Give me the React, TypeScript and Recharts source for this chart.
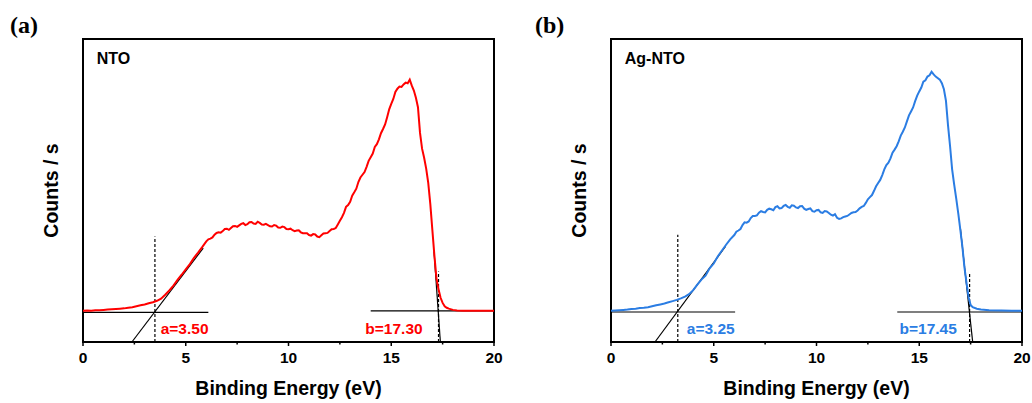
import {
  LineChart,
  Line,
  XAxis,
  YAxis,
  ReferenceLine,
  ReferenceArea,
  ReferenceDot,
} from "recharts";

// y is in arbitrary counts units (axis has no tick labels), 0..100
const energyTicks = [0, 2.5, 5, 7.5, 10, 12.5, 15, 17.5, 20];

const ntoSpectrum: [number, number][] = [
  [0, 10.3], [0.2, 10.4], [0.4, 10.3], [0.6, 10.5], [0.8, 10.5], [1.0, 10.6],
  [1.2, 10.7], [1.4, 10.8], [1.6, 10.9], [1.8, 11.0], [2.0, 11.1], [2.2, 11.3],
  [2.4, 11.5], [2.6, 11.8], [2.8, 12.1], [3.0, 12.4], [3.2, 12.8], [3.4, 13.1],
  [3.6, 13.6], [3.8, 14.3], [4.0, 15.6], [4.2, 17.0], [4.4, 18.6], [4.6, 20.5],
  [4.8, 22.2], [5.0, 24.0], [5.2, 25.7], [5.4, 27.8], [5.6, 29.5], [5.8, 31.3],
  [6.0, 33.2], [6.1, 33.9], [6.2, 34.1], [6.3, 34.5], [6.4, 35.4], [6.5, 36.0],
  [6.6, 36.2], [6.7, 36.1], [6.8, 36.6], [6.9, 37.3], [7.0, 37.4], [7.1, 37.0],
  [7.2, 37.6], [7.3, 38.2], [7.4, 38.3], [7.5, 38.0], [7.6, 38.5], [7.7, 39.0],
  [7.8, 39.2], [7.9, 38.6], [8.0, 38.9], [8.1, 39.5], [8.2, 39.6], [8.3, 39.1],
  [8.4, 39.0], [8.5, 39.7], [8.6, 39.3], [8.7, 38.8], [8.8, 38.7], [8.9, 39.0],
  [9.0, 38.6], [9.1, 38.2], [9.2, 38.1], [9.3, 38.6], [9.4, 38.4], [9.5, 37.8],
  [9.6, 37.7], [9.7, 38.1], [9.8, 37.9], [9.9, 37.3], [10.0, 37.2], [10.1, 37.4],
  [10.2, 36.9], [10.3, 36.6], [10.4, 36.8], [10.5, 36.9], [10.6, 36.2], [10.7, 35.9],
  [10.8, 35.9], [10.9, 35.9], [11.0, 35.3], [11.1, 35.1], [11.2, 35.6], [11.3, 35.5],
  [11.4, 34.8], [11.5, 34.6], [11.6, 35.2], [11.7, 35.8], [11.8, 35.9], [11.9, 36.0],
  [12.0, 36.6], [12.1, 37.2], [12.2, 37.3], [12.3, 37.6], [12.4, 38.8], [12.5, 40.0],
  [12.6, 41.2], [12.7, 42.6], [12.8, 44.6], [12.9, 45.2], [13.0, 46.3], [13.1, 48.3],
  [13.2, 49.4], [13.3, 50.6], [13.4, 52.8], [13.5, 54.3], [13.6, 55.2], [13.7, 56.1],
  [13.8, 57.8], [13.9, 59.8], [14.0, 61.0], [14.1, 62.2], [14.2, 64.4], [14.3, 65.3],
  [14.4, 66.9], [14.5, 68.9], [14.6, 70.3], [14.7, 71.8], [14.8, 74.2], [14.9, 76.8],
  [15.0, 78.6], [15.1, 80.2], [15.2, 82.5], [15.3, 83.6], [15.4, 84.3], [15.5, 84.2],
  [15.6, 85.0], [15.7, 85.6], [15.8, 85.4], [15.9, 86.6], [16.0, 84.6], [16.1, 83.0],
  [16.2, 80.6], [16.3, 77.5], [16.4, 69.0], [16.5, 63.8], [16.6, 60.8], [16.7, 57.2],
  [16.8, 52.5], [16.9, 45.6], [17.0, 37.0], [17.1, 28.5], [17.2, 21.0], [17.3, 17.4],
  [17.4, 14.6], [17.5, 12.9], [17.6, 11.8], [17.7, 11.3], [17.8, 11.0], [18.0, 10.6],
  [18.2, 10.4], [18.5, 10.3], [19.0, 10.3], [19.5, 10.3], [20.0, 10.3],
];

const agNtoSpectrum: [number, number][] = [
  [0, 10.3], [0.2, 10.4], [0.4, 10.5], [0.6, 10.6], [0.8, 10.7], [1.0, 10.9],
  [1.2, 11.0], [1.4, 11.2], [1.6, 11.3], [1.8, 11.5], [2.0, 11.8], [2.2, 12.1],
  [2.4, 12.4], [2.6, 12.7], [2.8, 13.1], [3.0, 13.5], [3.2, 13.9], [3.4, 14.4],
  [3.6, 15.0], [3.8, 15.8], [4.0, 17.1], [4.2, 18.9], [4.4, 20.6], [4.6, 21.9],
  [4.8, 24.3], [5.0, 25.9], [5.2, 28.3], [5.4, 30.2], [5.6, 32.1], [5.8, 33.9],
  [6.0, 35.3], [6.1, 36.4], [6.2, 36.8], [6.3, 37.3], [6.4, 38.6], [6.5, 39.5],
  [6.6, 39.4], [6.7, 39.8], [6.8, 40.9], [6.9, 41.6], [7.0, 41.6], [7.1, 41.8],
  [7.2, 42.7], [7.3, 43.2], [7.4, 42.9], [7.5, 42.8], [7.6, 43.6], [7.7, 44.0],
  [7.8, 43.8], [7.9, 43.5], [8.0, 44.5], [8.1, 44.8], [8.2, 44.1], [8.3, 44.2],
  [8.4, 44.9], [8.5, 45.2], [8.6, 44.6], [8.7, 44.3], [8.8, 45.1], [8.9, 45.0],
  [9.0, 44.4], [9.1, 44.2], [9.2, 44.8], [9.3, 44.9], [9.4, 44.0], [9.5, 43.6],
  [9.6, 43.9], [9.7, 44.1], [9.8, 43.2], [9.9, 43.0], [10.0, 43.5], [10.1, 43.6],
  [10.2, 42.8], [10.3, 42.6], [10.4, 43.2], [10.5, 43.1], [10.6, 42.6], [10.7, 42.0],
  [10.8, 41.7], [10.9, 42.2], [11.0, 41.0], [11.1, 40.6], [11.2, 40.8], [11.3, 41.2],
  [11.4, 41.4], [11.5, 41.6], [11.6, 42.1], [11.7, 42.6], [11.8, 42.8], [11.9, 42.9],
  [12.0, 43.4], [12.1, 44.1], [12.2, 44.6], [12.3, 44.9], [12.4, 45.9], [12.5, 47.1],
  [12.6, 47.8], [12.7, 48.5], [12.8, 49.9], [12.9, 51.4], [13.0, 52.5], [13.1, 53.5],
  [13.2, 55.1], [13.3, 57.0], [13.4, 58.4], [13.5, 59.2], [13.6, 60.6], [13.7, 62.5],
  [13.8, 63.5], [13.9, 64.6], [14.0, 66.2], [14.1, 68.1], [14.2, 69.4], [14.3, 70.8],
  [14.4, 72.8], [14.5, 74.8], [14.6, 76.1], [14.7, 77.4], [14.8, 79.5], [14.9, 81.3],
  [15.0, 82.7], [15.1, 84.0], [15.2, 85.9], [15.3, 86.4], [15.4, 87.6], [15.5, 88.0],
  [15.6, 89.2], [15.7, 88.3], [15.8, 87.6], [16.0, 86.6], [16.1, 85.4], [16.2, 83.4],
  [16.3, 79.6], [16.4, 71.5], [16.5, 64.6], [16.6, 57.0], [16.7, 51.9], [16.8, 47.3],
  [16.9, 42.4], [17.0, 37.0], [17.1, 31.4], [17.2, 24.6], [17.3, 19.5], [17.4, 14.8],
  [17.5, 12.2], [17.6, 11.5], [17.8, 11.0], [18.0, 10.7], [18.4, 10.5], [19.0, 10.4],
  [19.5, 10.3], [20.0, 10.3],
];

type Pt = { x: number; y: number };
type Seg = [Pt, Pt];

// fitted lines (baselines, tangents, dashed onset markers)
const ntoFits: Seg[] = [
  [{ x: 0, y: 9.8 }, { x: 6.1, y: 9.8 }],
  [{ x: 14, y: 10.3 }, { x: 20, y: 10.3 }],
  [{ x: 2.38, y: 0 }, { x: 5.85, y: 31 }],
  [{ x: 17.08, y: 29.9 }, { x: 17.39, y: 0 }],
];
const ntoMarkers: Seg[] = [
  [{ x: 3.5, y: 0 }, { x: 3.5, y: 34.8 }],
  [{ x: 17.3, y: 0 }, { x: 17.3, y: 23.3 }],
];
const agNtoFits: Seg[] = [
  [{ x: 0, y: 9.9 }, { x: 6.04, y: 9.9 }],
  [{ x: 13.93, y: 9.9 }, { x: 20, y: 9.9 }],
  [{ x: 2.14, y: 0 }, { x: 5.58, y: 31.6 }],
  [{ x: 17.0, y: 37.6 }, { x: 17.6, y: 0 }],
];
const agNtoMarkers: Seg[] = [
  [{ x: 3.25, y: 0 }, { x: 3.25, y: 35.4 }],
  [{ x: 17.45, y: 0 }, { x: 17.45, y: 22.8 }],
];

type Note = { x: number; y: number; text: string };
const ntoNotes: Note[] = [
  { x: 3.78, y: 4.3, text: "a=3.50" },
  { x: 13.74, y: 4.3, text: "b=17.30" },
];
const agNtoNotes: Note[] = [
  { x: 3.69, y: 4.6, text: "a=3.25" },
  { x: 14.04, y: 4.6, text: "b=17.45" },
];

const SANS = "'Liberation Sans', Arial, sans-serif";

function EnergyTick(props: any) {
  const { x, y, payload } = props;
  const major = payload.value % 5 === 0;
  return (
    <g>
      <line x1={x} x2={x} y1={y} y2={y + (major ? 4 : 2.5)} stroke="#000" strokeWidth={1.5} />
      {major && (
        <text
          x={x}
          y={y + 17}
          textAnchor="middle"
          dominantBaseline="middle"
          fontFamily={SANS}
          fontWeight="bold"
          fontSize={15.5}
          fill="#000"
        >
          {payload.value}
        </text>
      )}
    </g>
  );
}

type PanelProps = {
  letter: string;
  sample: string;
  spectrum: [number, number][];
  fits: Seg[];
  markers: Seg[];
  notes: Note[];
  color: string;
  yAxisWidth: number;
  rightMargin: number;
  letterLeft: number;
};

function Panel(p: PanelProps) {
  const data = p.spectrum.map(([x, y]) => ({ x, y }));
  return (
    <div style={{ position: "relative", width: 516, height: 403 }}>
      <div
        style={{
          position: "absolute",
          left: p.letterLeft,
          top: 10,
          fontFamily: "'Liberation Serif', 'Times New Roman', serif",
          fontWeight: "bold",
          fontSize: 24,
          lineHeight: "30px",
        }}
      >
        {p.letter}
      </div>
      <LineChart
        width={516}
        height={403}
        data={data}
        margin={{ top: 39, right: p.rightMargin, bottom: 0, left: 0 }}
      >
        <XAxis
          dataKey="x"
          type="number"
          domain={[0, 20]}
          ticks={energyTicks}
          interval={0}
          height={61}
          axisLine={false}
          tickLine={false}
          tickSize={0}
          tickMargin={0}
          tick={<EnergyTick />}
          label={{
            content: (lp: any) => {
              const vb = lp.viewBox;
              return (
                <text
                  x={vb.x + vb.width / 2}
                  y={vb.y + 48}
                  textAnchor="middle"
                  dominantBaseline="middle"
                  fontFamily={SANS}
                  fontWeight="bold"
                  fontSize={19.5}
                  fill="#000"
                >
                  Binding Energy (eV)
                </text>
              );
            },
          }}
        />
        <YAxis
          type="number"
          domain={[0, 100]}
          width={p.yAxisWidth}
          axisLine={false}
          tickLine={false}
          tick={false}
          label={{
            content: (lp: any) => {
              const vb = lp.viewBox;
              const cx = vb.x + vb.width - 30;
              const cy = vb.y + vb.height / 2;
              return (
                <text
                  x={cx}
                  y={cy}
                  transform={`rotate(-90 ${cx} ${cy})`}
                  textAnchor="middle"
                  dominantBaseline="middle"
                  fontFamily={SANS}
                  fontWeight="bold"
                  fontSize={19.5}
                  fill="#000"
                >
                  Counts / s
                </text>
              );
            },
          }}
        />
        {p.fits.map((s, i) => (
          <ReferenceLine key={`f${i}`} segment={s} stroke="#000" strokeWidth={1.2} ifOverflow="visible" />
        ))}
        {p.markers.map((s, i) => (
          <ReferenceLine
            key={`m${i}`}
            segment={s}
            stroke="#000"
            strokeWidth={1.2}
            strokeDasharray="3 2"
            ifOverflow="visible"
          />
        ))}
        <Line
          dataKey="y"
          type="linear"
          stroke={p.color}
          strokeWidth={2}
          dot={false}
          isAnimationActive={false}
        />
        <ReferenceArea
          x1={0}
          x2={20}
          y1={0}
          y2={100}
          fill="none"
          fillOpacity={0}
          stroke="#000"
          strokeWidth={2}
          ifOverflow="visible"
        />
        <ReferenceDot
          x={0.67}
          y={93.5}
          r={0}
          fill="none"
          stroke="none"
          label={{
            value: p.sample,
            position: "right",
            offset: 0,
            fill: "#000",
            fontFamily: SANS,
            fontWeight: "bold",
            fontSize: 16,
          }}
        />
        {p.notes.map((n) => (
          <ReferenceDot
            key={n.text}
            x={n.x}
            y={n.y}
            r={0}
            fill="none"
            stroke="none"
            label={{
              value: n.text,
              position: "right",
              offset: 0,
              fill: p.color,
              fontFamily: SANS,
              fontWeight: "bold",
              fontSize: 15.5,
            }}
          />
        ))}
      </LineChart>
    </div>
  );
}

export default function App() {
  return (
    <div
      style={{
        position: "absolute",
        left: 0,
        top: 0,
        width: 1032,
        height: 403,
        display: "flex",
        background: "#fff",
      }}
    >
      <Panel
        letter="(a)"
        sample="NTO"
        spectrum={ntoSpectrum}
        fits={ntoFits}
        markers={ntoMarkers}
        notes={ntoNotes}
        color="#ff0000"
        yAxisWidth={83}
        rightMargin={22}
        letterLeft={10}
      />
      <Panel
        letter="(b)"
        sample="Ag-NTO"
        spectrum={agNtoSpectrum}
        fits={agNtoFits}
        markers={agNtoMarkers}
        notes={agNtoNotes}
        color="#2b7de3"
        yAxisWidth={95}
        rightMargin={10}
        letterLeft={19}
      />
    </div>
  );
}
